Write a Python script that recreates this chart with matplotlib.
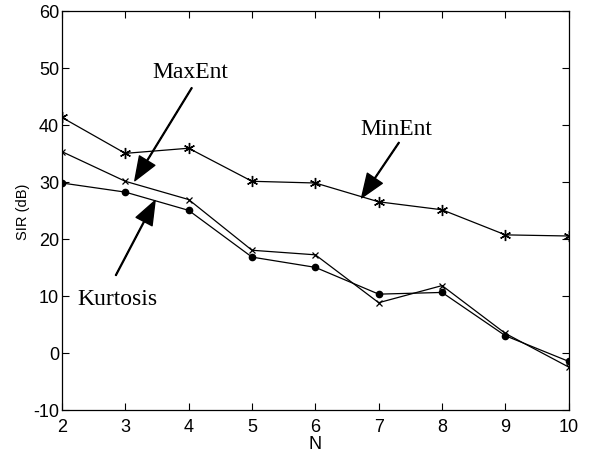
import matplotlib
matplotlib.use("Agg")
import matplotlib.pyplot as plt

plt.rcParams['axes.unicode_minus'] = False

N = [2, 3, 4, 5, 6, 7, 8, 9, 10]
minent = [41.3, 35.0, 35.9, 30.1, 29.8, 26.5, 25.1, 20.7, 20.5]
maxent = [35.3, 30.1, 26.9, 18.0, 17.2, 8.8, 11.8, 3.4, -2.5]
kurtosis = [29.8, 28.2, 25.0, 16.8, 15.0, 10.3, 10.6, 3.0, -1.5]
xticks = [2, 3, 4, 5, 6, 7, 8, 9, 10]
yticks = [-10, 0, 10, 20, 30, 40, 50, 60]

fig = plt.figure(figsize=(5.9, 4.56), dpi=100)
ax = fig.add_axes([0.105, 0.099, 0.859, 0.875])

ax.plot(N, minent, color='black', lw=0.9, marker=(6, 2, 0), ms=8, mew=1.0)
ax.plot(N, maxent, color='black', lw=0.9, marker='x', ms=5, mew=0.9)
ax.plot(N, kurtosis, color='black', lw=0.9, marker='o', ms=4.5)

ax.set_xlim(2, 10)
ax.set_ylim(-10, 60)
ax.set_xticks(xticks)
ax.set_yticks(yticks)
ax.tick_params(direction='in', top=True, right=True, length=5, labelsize=13)
ax.tick_params(axis='x', pad=6)
ax.tick_params(axis='y', pad=2)
for lab in ax.get_xticklabels() + ax.get_yticklabels():
    lab.set_family('Liberation Sans')
for s in ax.spines.values():
    s.set_linewidth(0.9)
ax.set_xlabel('N', fontsize=13, family='Liberation Sans', labelpad=0)
ax.set_ylabel('SIR (dB)', fontsize=10.5, family='Liberation Sans', labelpad=2)

aprops = dict(facecolor='black', edgecolor='black', width=0.6, headwidth=13, headlength=17, shrink=0)
tfont = dict(fontsize=17, family='Liberation Serif', ha='center', va='center')

ax.text(4.02, 49.3, 'MaxEnt', **tfont)
ax.annotate('', xy=(3.15, 30.2), xytext=(4.05, 46.5), arrowprops=aprops)

ax.text(7.27, 39.3, 'MinEnt', **tfont)
ax.annotate('', xy=(6.73, 27.2), xytext=(7.32, 36.9), arrowprops=aprops)

ax.text(2.87, 9.6, 'Kurtosis', **tfont)
ax.annotate('', xy=(3.47, 26.7), xytext=(2.85, 13.6), arrowprops=aprops)

fig.savefig('out.png', dpi=100)
